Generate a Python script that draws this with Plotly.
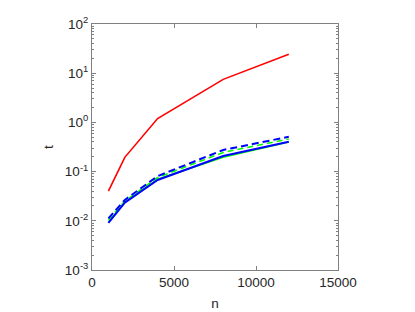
import plotly.graph_objects as go

n = [1000, 2000, 4000, 8000, 12000]
red = [0.040, 0.195, 1.2, 7.5, 24.2]
green_solid = [0.0095, 0.024, 0.070, 0.195, 0.40]
green_dash = [0.0105, 0.025, 0.076, 0.245, 0.46]
blue_solid = [0.0091, 0.0233, 0.0675, 0.207, 0.405]
blue_dash = [0.0112, 0.0265, 0.081, 0.275, 0.51]

y_tickvals = [1e-3, 1e-2, 1e-1, 1, 10, 100]
y_ticktext = ["10<sup>-3</sup>", "10<sup>-2</sup>", "10<sup>-1</sup>", "10<sup>0</sup>", "10<sup>1</sup>", "10<sup>2</sup>"]
x_tickvals = [0, 5000, 10000, 15000]
x_ticktext = ["0", "5000", "10000", "15000"]

FONT = "Liberation Sans, Arial"

fig = go.Figure()
fig.add_trace(go.Scatter(x=n, y=red, mode="lines", line=dict(color="#ff0000", width=1.6)))
fig.add_trace(go.Scatter(x=n, y=green_solid, mode="lines", line=dict(color="#00ff00", width=1.6)))
fig.add_trace(go.Scatter(x=n, y=green_dash, mode="lines", line=dict(color="#00ff00", width=1.6, dash="6px,4px")))
fig.add_trace(go.Scatter(x=n, y=blue_solid, mode="lines", line=dict(color="#0000ff", width=2)))
fig.add_trace(go.Scatter(x=n, y=blue_dash, mode="lines", line=dict(color="#0000ff", width=2, dash="7px,4px")))

axis_common = dict(showgrid=False, zeroline=False, showline=True, linecolor="#808080", linewidth=1,
                   mirror="ticks", ticks="inside", tickcolor="#808080", ticklen=4, automargin=False,
                   tickfont=dict(family=FONT, size=13.5, color="#262626"))

fig.update_xaxes(range=[0, 15000], tickvals=x_tickvals, ticktext=x_ticktext,
                 title=dict(text="n", font=dict(family=FONT, size=13.5, color="#262626"), standoff=9),
                 **axis_common)
fig.update_yaxes(type="log", range=[-3, 2], tickvals=y_tickvals, ticktext=y_ticktext,
                 minor=dict(ticks="inside", ticklen=2, tickcolor="#808080", dtick="D1"),
                 title=dict(text="t", font=dict(family=FONT, size=13.5, color="#262626"), standoff=8),
                 **axis_common)

fig.update_layout(width=415, height=312, margin=dict(l=92, r=77, t=24, b=42, autoexpand=False),
                  plot_bgcolor="white", paper_bgcolor="white", showlegend=False)

fig.write_html("out.html", config={"displayModeBar": False, "staticPlot": True},
               post_script="document.body.style.margin='0';document.body.style.padding='0';")
